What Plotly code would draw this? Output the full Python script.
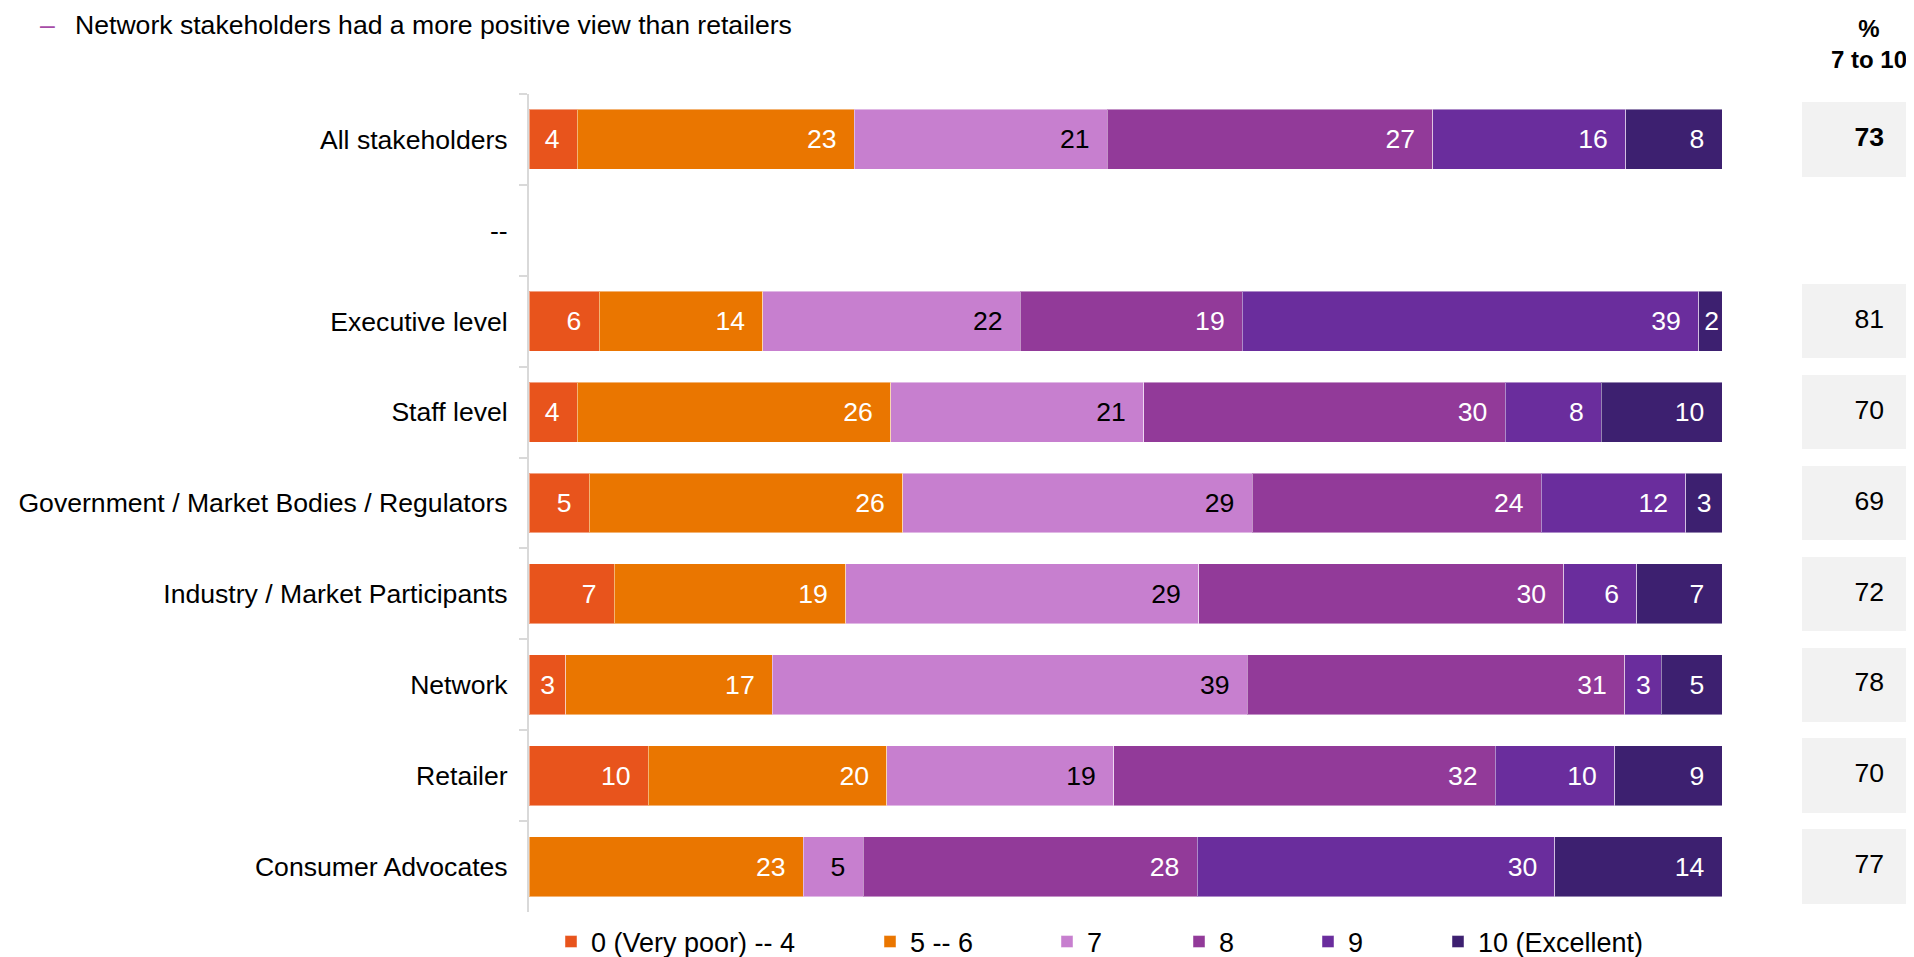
import plotly.graph_objects as go

# ---------------- data ----------------
categories = [
    "All stakeholders",
    "--",
    "Executive level",
    "Staff level",
    "Government / Market Bodies / Regulators",
    "Industry / Market Participants",
    "Network",
    "Retailer",
    "Consumer Advocates",
]
series_names = ["0 (Very poor) -- 4", "5 -- 6", "7", "8", "9", "10 (Excellent)"]
s_0_4 = [4, None, 6, 4, 5, 7, 3, 10, None]
s_5_6 = [23, None, 14, 26, 26, 19, 17, 20, 23]
s_7 = [21, None, 22, 21, 29, 29, 39, 19, 5]
s_8 = [27, None, 19, 30, 24, 30, 31, 32, 28]
s_9 = [16, None, 39, 8, 12, 6, 3, 10, 30]
s_10 = [8, None, 2, 10, 3, 7, 5, 9, 14]
pct_7_to_10 = [73, None, 81, 70, 69, 72, 78, 70, 77]

series_values = [s_0_4, s_5_6, s_7, s_8, s_9, s_10]
series_colors = ["#E8541C", "#EA7600", "#C77FCF", "#923A99", "#6A2D9D", "#3D2070"]
text_colors = ["white", "white", "black", "white", "white", "white"]

FONT = "Liberation Sans, Arial, sans-serif"
FS = 26.6
OFF = 8                      # page body margin
PAGE_W, PAGE_H = 1914, 957
W, H = PAGE_W - OFF, PAGE_H - OFF
T = 94 - OFF                 # plot top (page y 94)
B = H - (912 - OFF)          # plot bottom (page y 912)
PH = H - T - B

def px_x(page_x):
    return (page_x - OFF) / W

def px_y(page_y):
    return (H - B - (page_y - OFF)) / PH

fig = go.Figure()

NB = "\u00a0"
for i, (name, vals) in enumerate(zip(series_names, series_values)):
    labels = []
    for v in vals:
        if v is None:
            labels.append("")
        elif v <= 2:
            labels.append(f"{v}")
        elif v <= 3:
            labels.append(f"{v}{NB}")
        else:
            labels.append(f"{v}{NB}{NB}")
    fig.add_trace(go.Bar(
        y=categories, x=vals, orientation="h", name=name,
        marker=dict(color=series_colors[i], line=dict(color="rgba(255,255,255,0.45)", width=1)),
        width=0.66,
        text=labels, texttemplate="%{text}", textposition="inside",
        insidetextanchor="end",
        textfont=dict(family=FONT, size=FS, color=text_colors[i]),
        xaxis="x", yaxis="y",
        legend="legend" if i == 0 else f"legend{i+1}",
        hoverinfo="name+x",
    ))

# right column: gray boxes + values
box_x = [1.2 if p is not None else None for p in pct_7_to_10]
fig.add_trace(go.Bar(
    y=categories, x=box_x, orientation="h", width=0.82,
    marker=dict(color="#F2F2F2", line=dict(width=0)),
    xaxis="x2", yaxis="y", showlegend=False, hoverinfo="skip",
))
pct_text = []
for i, p in enumerate(pct_7_to_10):
    if p is None:
        pct_text.append("")
    elif i == 0:
        pct_text.append(f"<b>{p}</b>")
    else:
        pct_text.append(str(p))
fig.add_trace(go.Scatter(
    y=categories, x=[0.6] * len(categories), mode="text", text=pct_text,
    textposition="middle center",
    textfont=dict(family=FONT, size=FS, color="black"),
    xaxis="x2", yaxis="y", showlegend=False, hoverinfo="skip",
))

layout_legends = {}
legend_px = [551, 870, 1047, 1179, 1308, 1438]
for i, lx in enumerate(legend_px):
    key = "legend" if i == 0 else f"legend{i+1}"
    layout_legends[key] = dict(
        x=px_x(lx), xanchor="left", y=px_y(942), yanchor="middle",
        orientation="h", bgcolor="rgba(0,0,0,0)",
        font=dict(family=FONT, size=27, color="black"),
        itemclick=False, itemdoubleclick=False,
    )

fig.update_layout(
    width=W, height=H,
    margin=dict(l=0, r=0, t=T, b=B, pad=0, autoexpand=False),
    paper_bgcolor="white", plot_bgcolor="white",
    barmode="stack", barnorm="percent",
    font=dict(family=FONT, size=FS, color="black"),
    xaxis=dict(domain=[px_x(529), px_x(1722)], range=[0, 100], visible=False, fixedrange=True),
    xaxis2=dict(domain=[px_x(1802), 1.0], range=[0, 1], visible=False, anchor="y", fixedrange=True),
    yaxis=dict(
        categoryorder="array", categoryarray=categories,
        range=[len(categories) - 0.5, -0.5],
        showline=True, linecolor="#D9D9D9", linewidth=2,
        ticks="outside", tickson="boundaries", ticklen=8, tickcolor="#D9D9D9", tickwidth=2,
        ticklabelstandoff=14,
        tickfont=dict(family=FONT, size=FS, color="black"),
        showgrid=False, zeroline=False, fixedrange=True,
    ),
    annotations=[
        dict(text="\u2013", x=px_x(38), y=px_y(8), xref="paper", yref="paper",
             xanchor="left", yanchor="top", showarrow=False,
             font=dict(family=FONT, size=FS, color="#A64CA6")),
        dict(text="Network stakeholders had a more positive view than retailers",
             x=px_x(73), y=px_y(8), xref="paper", yref="paper",
             xanchor="left", yanchor="top", showarrow=False,
             font=dict(family=FONT, size=FS, color="black")),
        dict(text="<b>%<br>7 to 10</b>", x=px_x(1869), y=px_y(44), xref="paper", yref="paper",
             xanchor="center", yanchor="middle", showarrow=False,
             font=dict(family=FONT, size=24, color="black")),
    ],
    showlegend=True,
    **layout_legends,
)

fig.write_html("out.html")
